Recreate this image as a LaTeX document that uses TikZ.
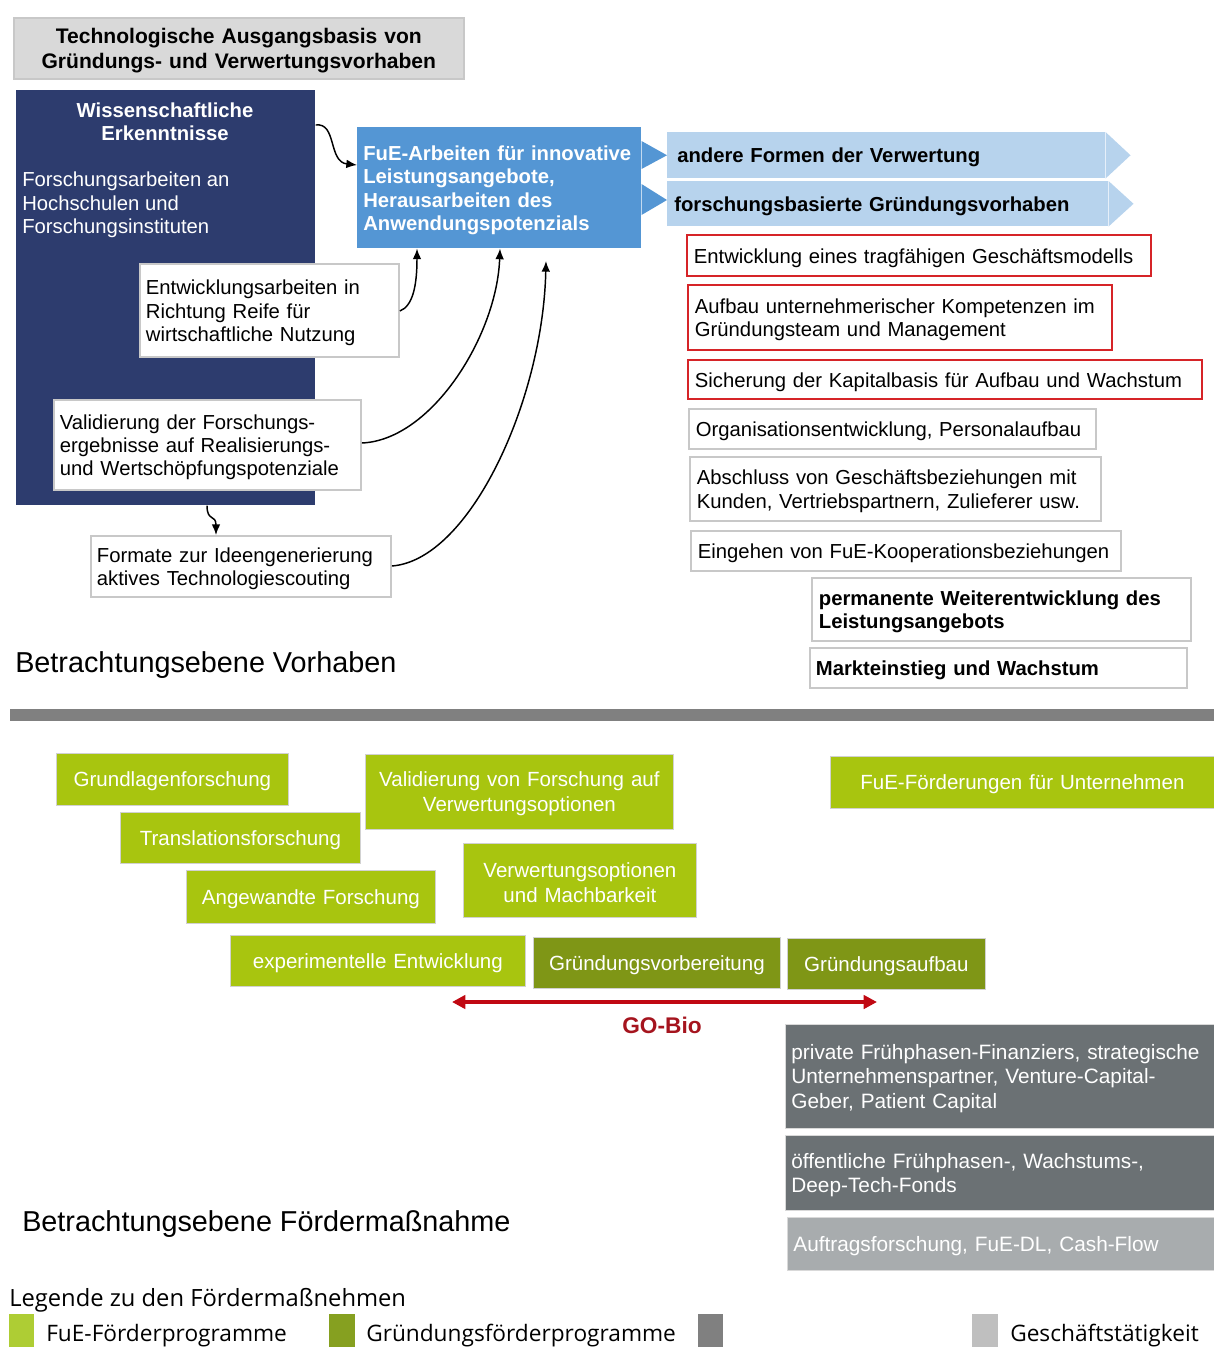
\documentclass[tikz,border=0pt]{standalone}
\usepackage{fontspec}
\setmainfont{Liberation Sans}
\newfontfamily\legfont{Open Sans}
\usetikzlibrary{arrows.meta}

\definecolor{navy}{RGB}{45,60,110}
\definecolor{fueblue}{RGB}{84,150,212}
\definecolor{chevblue}{RGB}{183,211,237}
\definecolor{titlegray}{RGB}{217,217,217}
\definecolor{edgegray}{RGB}{200,200,200}
\definecolor{boxred}{RGB}{214,36,40}
\definecolor{limegreen}{RGB}{168,197,15}
\definecolor{olivegreen}{RGB}{127,150,22}
\definecolor{fonddark}{RGB}{107,113,116}
\definecolor{fondlight}{RGB}{168,172,174}
\definecolor{bargray}{RGB}{128,128,128}
\definecolor{gored}{RGB}{192,8,18}
\definecolor{gotext}{RGB}{165,20,30}
\definecolor{leglime}{RGB}{174,205,52}
\definecolor{legolive}{RGB}{134,160,32}
\definecolor{legdark}{RGB}{128,128,128}
\definecolor{leglight}{RGB}{191,191,191}

% box from its corner coordinates (in px): [padding]{name}{style}{x1}{y1}{x2}{y2}{text}
\newcommand\mkbox[8][6]{%
  \pgfmathsetlengthmacro\mkpad{#1*0.75pt}%
  \pgfmathsetlengthmacro\mktw{(#6-#4-2*#1)*0.75pt}%
  \pgfmathsetlengthmacro\mkh{(#7-#5)*0.75pt}%
  \node[#3, anchor=north west, inner xsep=\mkpad, inner ysep=0pt,
        text width=\mktw, minimum height=\mkh] (#2) at (#4,#5) {\rule{0pt}{14.5pt}#8};}

\tikzset{
  body/.style={font=\fontsize{15.2}{17.6}\selectfont},
  bodyb/.style={font=\fontsize{15.2}{17.6}\selectfont\bfseries},
  titlebox/.style={font=\fontsize{15.8}{18.8}\selectfont\bfseries, fill=titlegray,
                   draw=edgegray, line width=1.2pt, align=center},
  whitebox/.style={body, draw=edgegray, line width=1.4pt, fill=white, align=left},
  whiteboxb/.style={bodyb, draw=edgegray, line width=1.4pt, fill=white, align=left},
  redbox/.style={body, draw=boxred, line width=1.4pt, fill=white, align=left},
  fuebox/.style={bodyb, fill=fueblue, text=white, align=left},
  chev/.style={bodyb, fill=chevblue, align=left},
  greenbox/.style={font=\fontsize{15.4}{18.8}\selectfont, fill=limegreen, text=white,
                   draw=black!18, line width=0.6pt, align=center},
  olivebox/.style={greenbox, fill=olivegreen},
  fondbox/.style={font=\fontsize{15.6}{18.4}\selectfont, fill=fonddark, text=white,
                  draw=black!15, line width=0.6pt, align=left},
  fondboxl/.style={fondbox, fill=fondlight},
  conn/.style={line width=1.1pt, -{Latex[length=8pt,width=6.5pt]}},
  goarrow/.style={gored, line width=3pt, {Triangle[length=10pt,width=10pt]}-{Triangle[length=10pt,width=10pt]}},
  heading/.style={font=\fontsize{21.6}{25}\selectfont, anchor=west, inner sep=0pt},
  legtext/.style={font=\legfont\fontsize{17}{20}\selectfont, anchor=west, inner sep=0pt},
}

\begin{document}
\begin{tikzpicture}[x=0.75pt,y=-0.75pt]
\useasboundingbox (0,0) rectangle (1214,1347);

% ---------- Betrachtungsebene Vorhaben ----------
\mkbox{title}{titlebox}{13}{17}{463}{78}{Technologische Ausgangsbasis von\\Gründungs- und Verwertungsvorhaben}

\node[fill=navy, anchor=north west, inner sep=0pt,
      minimum width=224.25pt, minimum height=311.25pt] (wiss) at (16,90) {};
\node[bodyb, text=white, align=center, inner sep=0pt] (wisshead) at (165,122)
  {Wissenschaftliche\\Erkenntnisse};
\node[body, text=white, align=left, anchor=west, inner sep=0pt] (wissbody) at (22,205)
  {Forschungsarbeiten an\\Hochschulen und\\Forschungsinstituten};

\mkbox{entw}{whitebox}{139}{263}{398}{356}{Entwicklungsarbeiten in\\Richtung Reife für\\wirtschaftliche Nutzung}
\mkbox{vali}{whitebox}{53}{399}{360}{489}{Validierung der Forschungs-\\ergebnisse auf Realisierungs-\\und Wertschöpfungspotenziale}
\mkbox{form}{whitebox}{90}{535}{390}{596}{Formate zur Ideengenerierung\\aktives Technologiescouting}

\mkbox{fue}{fuebox}{357}{127}{641}{248}{FuE-Arbeiten für innovative\\Leistungsangebote,\\Herausarbeiten des\\Anwendungspotenzials}

% chevrons towards exploitation paths
\mkbox[10]{andere}{chev}{667}{132}{1105}{178}{andere Formen der Verwertung}
\fill[chevblue] (andere.north east) -- ([xshift=18.75pt]andere.east) -- (andere.south east) -- cycle;
\mkbox[7]{forsch}{chev}{667}{181}{1108}{226}{forschungsbasierte Gründungsvorhaben}
\fill[chevblue] (forsch.north east) -- ([xshift=18.75pt]forsch.east) -- (forsch.south east) -- cycle;

\fill[fueblue] (fue.east |- 0,141) -- (andere.west) -- (fue.east |- 0,169) -- cycle;
\fill[fueblue] (fue.east |- 0,184) -- (forsch.west |- 0,200) -- (fue.east |- 0,215) -- cycle;

% tasks of a start-up project
\mkbox[7]{gesch}{redbox}{686}{234}{1150}{275}{Entwicklung eines tragfähigen Geschäftsmodells}
\mkbox[7]{komp}{redbox}{687}{284}{1111}{349}{Aufbau unternehmerischer Kompetenzen im\\Gründungsteam und Management}
\mkbox[7]{kapi}{redbox}{687}{359}{1201}{398}{Sicherung der Kapitalbasis für Aufbau und Wachstum}
\mkbox[7]{orga}{whitebox}{688}{408}{1095}{448}{Organisationsentwicklung, Personalaufbau}
\mkbox[7]{absch}{whitebox}{689}{456}{1100}{520}{Abschluss von Geschäftsbeziehungen mit\\Kunden, Vertriebspartnern, Zulieferer usw.}
\mkbox[7]{koop}{whitebox}{690}{530}{1120}{570}{Eingehen von FuE-Kooperationsbeziehungen}
\mkbox[7]{weiter}{whiteboxb}{811}{577}{1190}{640}{permanente Weiterentwicklung des\\Leistungsangebots}
\mkbox[6]{markt}{whiteboxb}{809}{647}{1186}{687}{Markteinstieg und Wachstum}

\node[heading] (hvorh) at (15,665) {Betrachtungsebene Vorhaben};

% connectors into the R&D box
\coordinate (a4end) at (546,261);
\draw[conn] (wiss.east |- 0,125) .. controls (337,122) and (328,162) .. (fue.west |- 0,165);
\draw[conn] (entw.east |- 0,311) .. controls (413,306) and (417,285) .. (fue.south -| 417,0);
\draw[conn] (vali.east |- 0,443) .. controls (432,440) and (497,335) .. (fue.south -| 500,0);
\draw[conn] (form.east |- 0,566) .. controls (470,560) and (543,400) .. (a4end);
\draw[conn] (wiss.south -| 207,0) .. controls (207,522) and (216,514) .. (form.north -| 216,0);

% separator
\fill[bargray] (10,709) rectangle (1214,721);

% ---------- Betrachtungsebene Fördermaßnahme ----------
\mkbox[4]{grund}{greenbox}{56}{753}{288}{805}{Grundlagenforschung}
\mkbox[4]{trans}{greenbox}{120}{812}{360}{863}{Translationsforschung}
\mkbox[4]{angew}{greenbox}{186}{870}{435}{923}{Angewandte Forschung}
\mkbox[4]{exper}{greenbox}{230}{935}{525}{986}{experimentelle Entwicklung}
\mkbox[4]{valfo}{greenbox}{365}{754}{673}{829}{Validierung von Forschung auf\\Verwertungsoptionen}
\mkbox[4]{machb}{greenbox}{463}{843}{696}{917}{Verwertungsoptionen\\und Machbarkeit}
\mkbox[4]{fuef}{greenbox}{830}{756}{1214}{808}{FuE-Förderungen für Unternehmen}
\mkbox[4]{gvor}{olivebox}{533}{937}{780}{988}{Gründungsvorbereitung}
\mkbox[4]{gauf}{olivebox}{787}{938}{985}{989}{Gründungsaufbau}

\coordinate (gol) at (452,1002);
\coordinate (gor) at (877,1002);
\draw[goarrow] (gol) -- (gor);
\node[font=\fontsize{17}{20}\selectfont\bfseries, text=gotext, inner sep=0pt] (gobio) at (662,1025) {GO-Bio};

\mkbox[6]{priv}{fondbox}{785}{1024}{1214}{1128}{private Frühphasen-Finanziers, strategische\\Unternehmenspartner, Venture-Capital-\\Geber, Patient Capital}
\mkbox[6]{oeff}{fondbox}{785}{1135}{1214}{1210}{öffentliche Frühphasen-, Wachstums-,\\Deep-Tech-Fonds}
\mkbox[6]{auft}{fondboxl}{787}{1217}{1214}{1270}{Auftragsforschung, FuE-DL, Cash-Flow}

\node[heading] (hfoerd) at (22,1224) {Betrachtungsebene Fördermaßnahme};

% ---------- legend ----------
\node[legtext, font=\legfont\fontsize{17.8}{20}\selectfont] (legtitle) at (9,1300) {Legende zu den Fördermaßnehmen};
\fill[leglime]  (9,1314) rectangle (34,1347);
\fill[legolive] (329,1314) rectangle (355,1347);
\fill[legdark]  (698,1314) rectangle (723,1347);
\fill[leglight] (972,1314) rectangle (998,1347);
\node[legtext] (legfue) at (46,1336) {FuE-Förderprogramme};
\node[legtext] (leggr) at (366,1336) {Gründungsförderprogramme};
\node[legtext] (leggs) at (1010,1336) {Geschäftstätigkeit};
\end{tikzpicture}
\end{document}
